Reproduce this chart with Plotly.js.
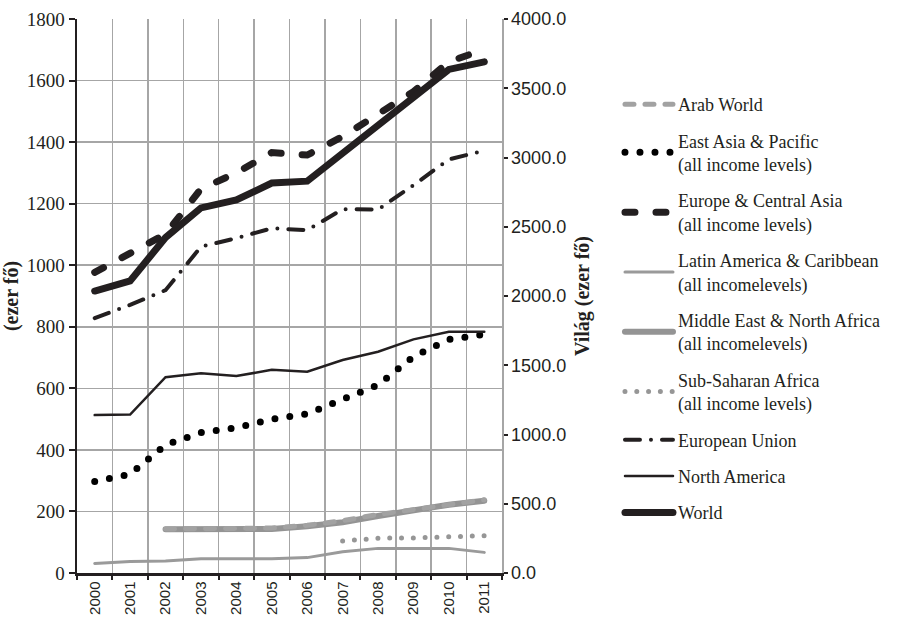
<!DOCTYPE html>
<html>
<head>
<meta charset="utf-8">
<script src="https://cdn.plot.ly/plotly-3.0.1.min.js"></script>
<style>
html,body{margin:0;padding:0;background:#fff;}
path.js-line{stroke-linecap:round;}
</style>
</head>
<body>
<div id="chart" style="width:909px;height:617px;"></div>
<script>
const years = ["2000","2001","2002","2003","2004","2005","2006","2007","2008","2009","2010","2011"];
const arabWorld   = [null, null, 143, 145, 146, 146, 155, 170, 190, 206, 226, 238];
const eastAsia    = [297, 321, 416, 456, 472, 500, 517, 562, 611, 703, 759, 775];
const europeCA    = [977, 1036, 1101, 1248, 1300, 1366, 1358, 1418, 1488, 1564, 1661, 1701];
const latinAm     = [31, 37, 39, 46, 46, 46, 50, 69, 80, 80, 80, 67];
const mena        = [null, null, 142, 143, 143, 143, 152, 165, 185, 203, 222, 235];
const subSaharan  = [null, null, null, null, null, null, null, 104, 113, 114, 118, 121];
const euroUnion   = [828, 871, 919, 1060, 1088, 1120, 1114, 1182, 1181, 1260, 1344, 1372];
const northAm     = [513, 515, 636, 649, 640, 660, 654, 692, 719, 759, 784, 784];
const world       = [2036, 2109, 2422, 2636, 2693, 2816, 2829, 3033, 3236, 3433, 3636, 3691];

const names = {
  arab: "Arab World",
  eap: "East Asia & Pacific<br>(all income levels)",
  eca: "Europe & Central Asia<br>(all income levels)",
  lac: "Latin America & Caribbean<br>(all incomelevels)",
  mena: "Middle East & North Africa<br>(all incomelevels)",
  ssa: "Sub-Saharan Africa<br>(all income levels)",
  eu: "European Union",
  na: "North America",
  world: "World"
};

const grey = "#969696";
const ink = "#231f20";
const traces = [
  {x: years, y: latinAm, name: names.lac, legendrank: 4, legendgroup: "g4", line: {color: "#9a9a9a", width: 3}},
  {x: years, y: mena, name: names.mena, legendrank: 5, legendgroup: "g5", line: {color: "#949494", width: 6}},
  {x: years, y: arabWorld, name: names.arab, legendrank: 1, legendgroup: "g1", line: {color: "#a2a2a2", width: 5, dash: "9px,11px"}},
  {x: years, y: subSaharan, name: names.ssa, legendrank: 6, legendgroup: "g6", line: {color: grey, width: 5, dash: "0px,11.8px"}},
  {x: years, y: eastAsia, name: names.eap, legendrank: 2, legendgroup: "g2", line: {color: "#000", width: 7, dash: "0px,15px"}},
  {x: years, y: northAm, name: names.na, legendrank: 8, legendgroup: "g8", line: {color: ink, width: 2.5}},
  {x: years, y: euroUnion, name: names.eu, legendrank: 7, legendgroup: "g7", line: {color: ink, width: 4, dash: "15px,11px,0px,11px"}},
  {x: years, y: europeCA, name: names.eca, legendrank: 3, legendgroup: "g3", line: {color: ink, width: 7, dash: "10px,21px"}},
  {x: years, y: world, name: names.world, legendrank: 9, legendgroup: "g9", yaxis: "y2", line: {color: ink, width: 7}}
].map(t => Object.assign({type: "scatter", mode: "lines", connectgaps: false, hoverinfo: "skip"}, t));

const serif = "'Liberation Serif', 'Times New Roman', serif";
const sans = "'Liberation Sans', Arial, sans-serif";

const layout = {
  width: 909, height: 617,
  margin: {l: 77, r: 407, t: 19, b: 44},
  paper_bgcolor: "#fff", plot_bgcolor: "#fff",
  font: {family: serif, size: 16, color: ink},
  showlegend: true,
  legend: {
    x: 1.2776, y: 0.879, xanchor: "left", yanchor: "top",
    font: {family: serif, size: 18, color: ink},
    traceorder: "grouped", tracegroupgap: 10, itemwidth: 48,
    bgcolor: "rgba(0,0,0,0)"
  },
  xaxis: {
    type: "category",
    range: [-0.5, 11.5],
    tickson: "boundaries",
    showgrid: true, gridcolor: "#a6a6a6", gridwidth: 1.5,
    showline: true, linecolor: ink, linewidth: 2.5,
    ticks: "outside", ticklen: 4, tickwidth: 2, tickcolor: ink,
    tickangle: -90,
    tickfont: {family: sans, size: 15, color: ink},
    fixedrange: true
  },
  yaxis: {
    range: [0, 1800], dtick: 200, tick0: 0,
    showgrid: true, gridcolor: "#a6a6a6", gridwidth: 1.5,
    zeroline: false,
    showline: true, linecolor: ink, linewidth: 2.5,
    ticks: "outside", ticklen: 6, tickwidth: 2, tickcolor: ink,
    tickfont: {family: serif, size: 19, color: ink},
    title: {text: "<b>(ezer fő)</b>", font: {family: serif, size: 20, color: ink}, standoff: 4},
    fixedrange: true
  },
  yaxis2: {
    overlaying: "y", side: "right",
    range: [0, 4000], dtick: 500, tick0: 0,
    tickformat: ".1f",
    showgrid: false, zeroline: false,
    showline: true, linecolor: "#a6a6a6", linewidth: 1.5,
    ticks: "outside", ticklen: 4, tickwidth: 2, tickcolor: ink,
    tickfont: {family: sans, size: 18, color: ink},
    title: {text: "<b>Világ (ezer fő)</b>", font: {family: serif, size: 20, color: ink}, standoff: 10},
    fixedrange: true
  }
};

Plotly.newPlot("chart", traces, layout, {displayModeBar: false, staticPlot: true});
</script>
</body>
</html>
